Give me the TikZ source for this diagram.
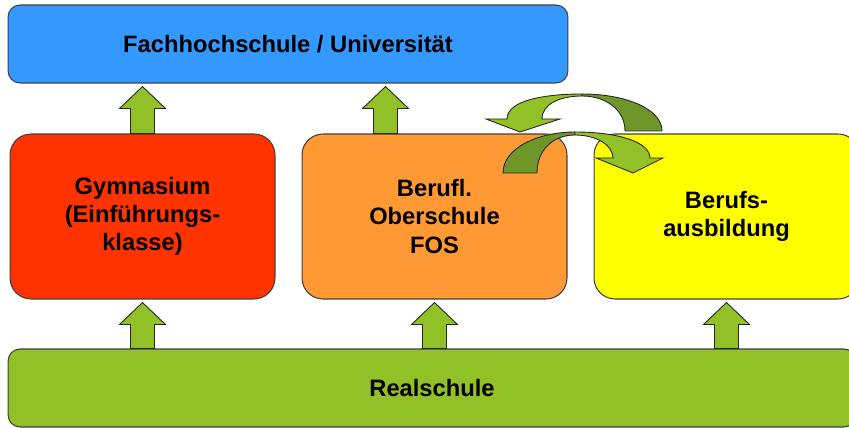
\documentclass[tikz,border=0pt]{standalone}
\usepackage{fontspec}
\setmainfont{Liberation Sans}
\usetikzlibrary{positioning}
\usetikzlibrary{calc}
\definecolor{fhblue}{HTML}{3399FF}
\definecolor{gymred}{HTML}{FF3300}
\definecolor{fosorange}{HTML}{FF9933}
\definecolor{berufyellow}{HTML}{FFFF00}
\definecolor{realgreen}{HTML}{92C027}
\definecolor{lightgreen}{HTML}{92C027}
\definecolor{darkgreen}{HTML}{6F9628}
\tikzstyle{schoolbox} = [rectangle, rounded corners=0.42cm, draw=black!75, line width=0.6pt, minimum width=5.3cm, minimum height=3.3cm, align=center, font=\fontsize{13.5}{16}\selectfont\bfseries]
\tikzstyle{widebox} = [rectangle, rounded corners=0.24cm, draw=black!75, line width=0.6pt, minimum height=1.56cm, align=center, font=\fontsize{13.5}{16}\selectfont\bfseries]
\tikzstyle{blockarrow} = [draw=black!85, line width=0.5pt, fill=lightgreen]
\tikzstyle{curvelight} = [draw=black!85, line width=0.5pt, fill=lightgreen]
\tikzstyle{curvedark} = [draw=black!85, line width=0.5pt, fill=darkgreen]
% up arrow from #1 (x and foot) to just below #2
\newcommand{\blockup}[2]{%
  \path[blockarrow] let \p1 = #1, \p2 = #2 in
    (\x1-0.24cm,\y1) -- (\x1-0.24cm,\y2-0.5cm) -- (\x1-0.46cm,\y2-0.5cm) -- (\x1,\y2-0.06cm)
    -- (\x1+0.46cm,\y2-0.5cm) -- (\x1+0.24cm,\y2-0.5cm) -- (\x1+0.24cm,\y1) -- cycle;}

\begin{document}
\begin{tikzpicture}[x=0.02cm, y=-0.02cm, node distance=0.52cm]
\useasboundingbox (0,0) rectangle (849,428);

% Define nodes
\node[schoolbox, fill=fosorange]                  (fos)   at (434.5,216.5) {Berufl.\\Oberschule\\FOS};
\node[schoolbox, fill=gymred, left = of fos]      (gym)   {Gymnasium\\(Einführungs-\\klasse)};
\node[schoolbox, fill=berufyellow, right = of fos] (beruf) {Berufs-\\ausbildung};

\node[widebox, fill=fhblue, minimum width=11.2cm]      (fh)   at (288,44)  {Fachhochschule / Universität};
\node[widebox, fill=realgreen, minimum width=16.96cm]  (real) at (432,388) {Realschule};

% Arrows
\blockup{(gym.north)}{(fh.south)}
\blockup{([xshift=-0.98cm]fos.north)}{(fh.south)}
\blockup{(real.north -| gym.center)}{(gym.south)}
\blockup{(real.north -| fos.center)}{(fos.south)}
\blockup{(real.north -| beruf.center)}{(beruf.south)}

% Curved arrows between FOS and Berufsausbildung
\draw[curvelight] (507,119) .. controls (507,100) and (546,94) .. (582,94)
  -- (582,96) .. controls (560,96) and (542,104) .. (542,119)
  -- (560,119) -- (520,132) -- (486,119) -- cycle;
\draw[curvedark] (582,94) .. controls (626,94) and (662,109) .. (662,131)
  -- (625,131) .. controls (625,110) and (606,96) .. (582,96) -- cycle;

\draw[curvedark] (503,173) .. controls (503,148) and (538,132) .. (575,132)
  -- (575,135) .. controls (553,135) and (537,150) .. (537,173) -- cycle;
\draw[curvelight] (575,132) .. controls (618,132) and (650,142) .. (650,158)
  -- (663,158) -- (633,173) -- (596,158) -- (613,158)
  .. controls (613,145) and (596,135) .. (575,135) -- cycle;
\end{tikzpicture}
\end{document}
